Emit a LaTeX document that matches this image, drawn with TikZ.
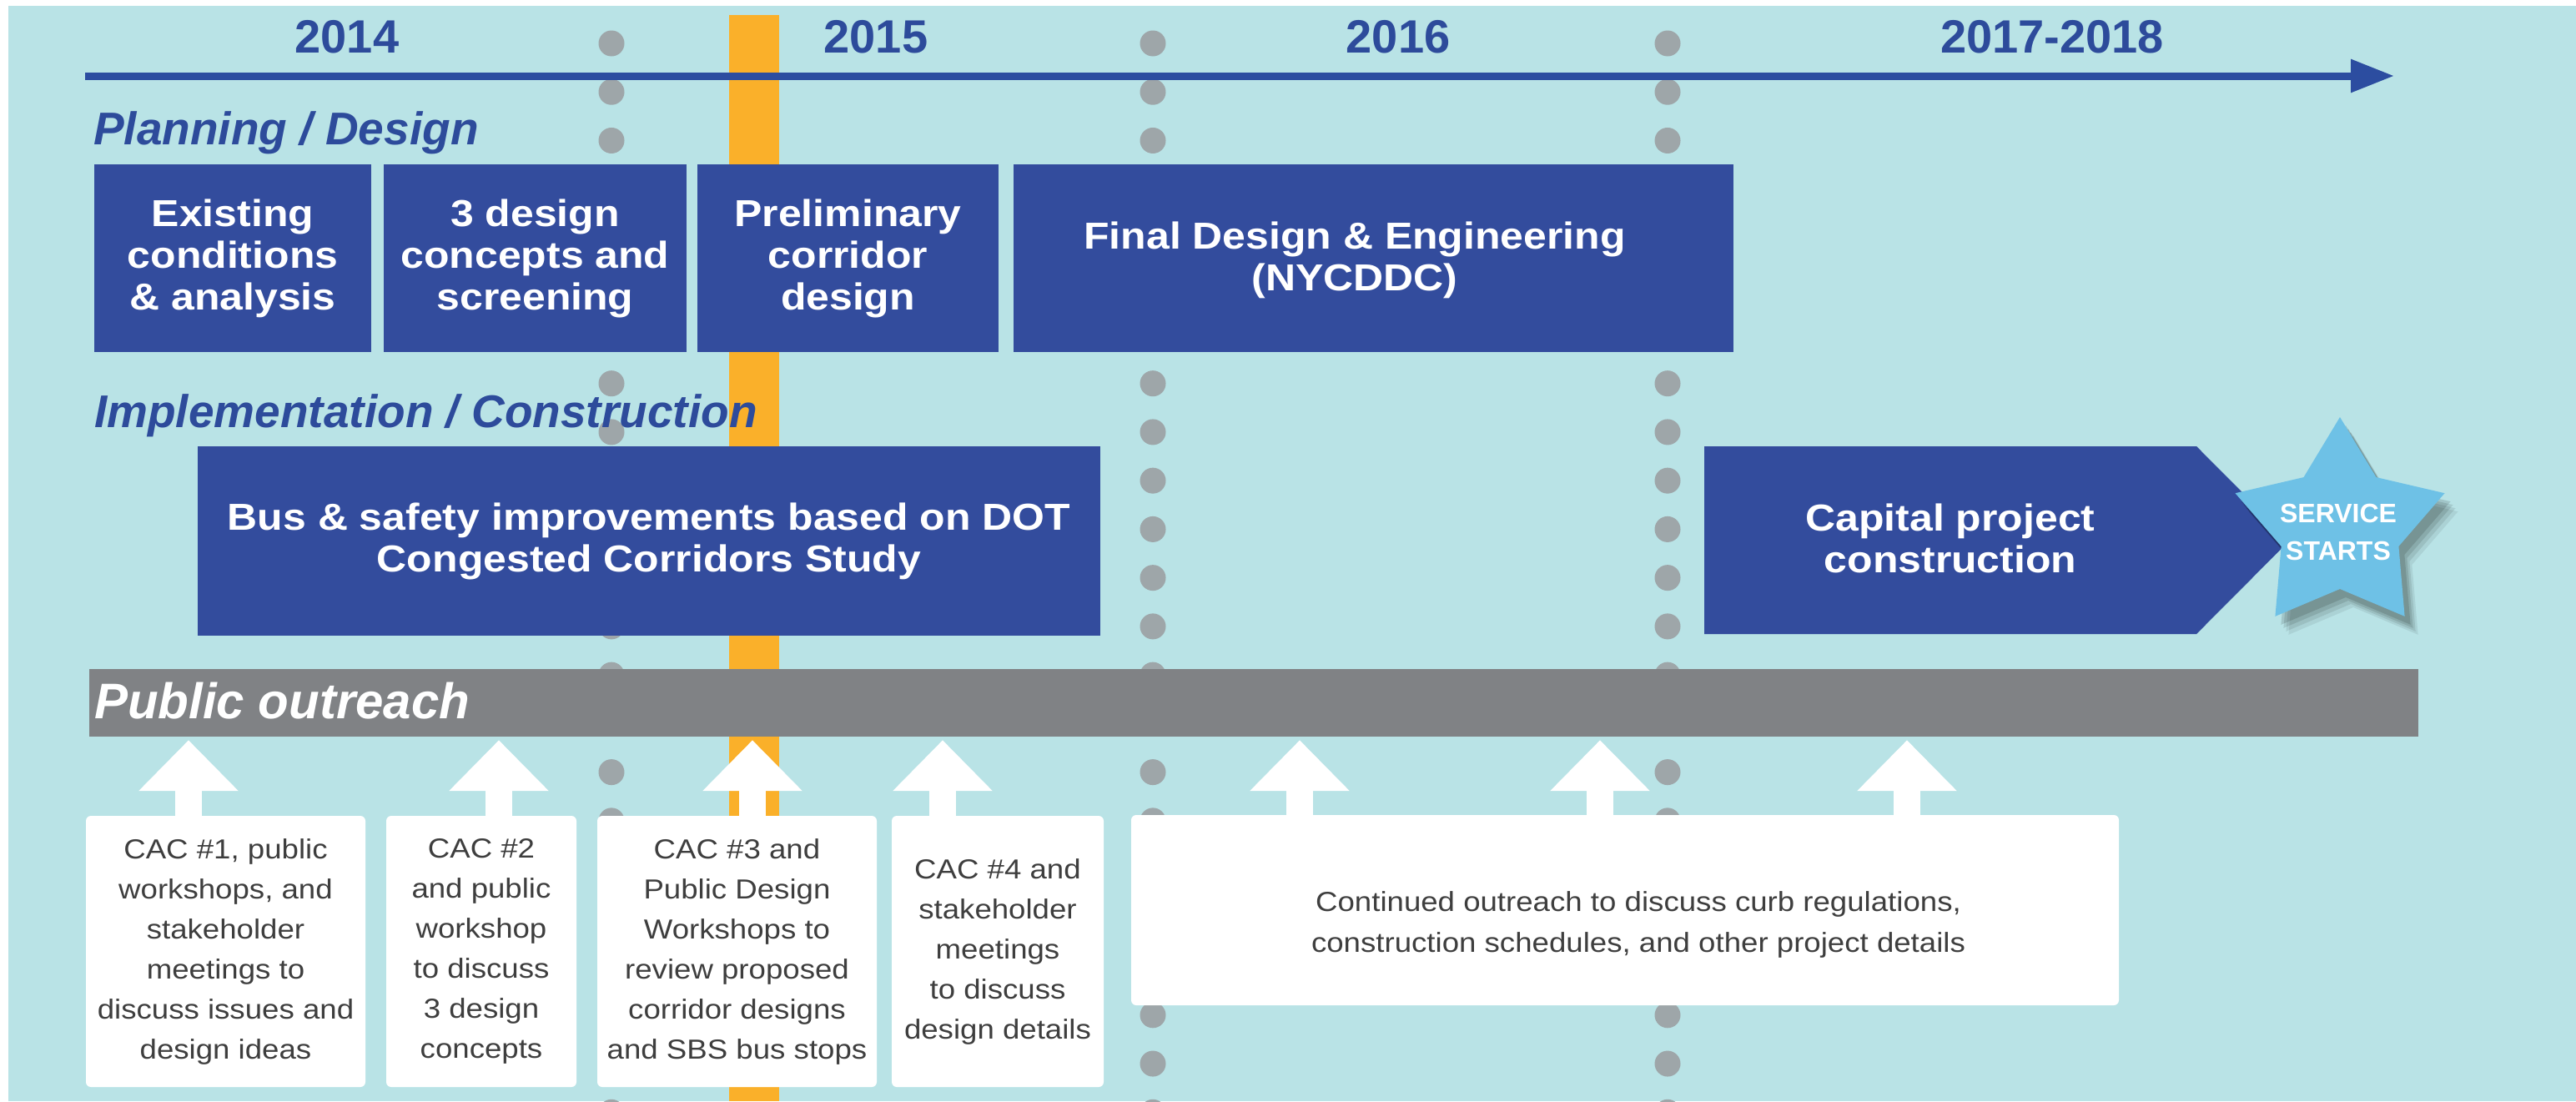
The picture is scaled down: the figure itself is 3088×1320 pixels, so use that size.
\documentclass[tikz,border=0pt]{standalone}
\usepackage{fontspec}
\setmainfont{Liberation Sans}
\newfontfamily\wfont{Liberation Sans}[FakeStretch=1.11]
\usetikzlibrary{arrows.meta,calc}
\definecolor{bgc}{RGB}{185,227,230}
\definecolor{boxblue}{RGB}{51,76,157}
\definecolor{axisblue}{RGB}{44,77,160}
\definecolor{headblue}{RGB}{45,75,155}
\definecolor{orangec}{RGB}{250,176,42}
\definecolor{dotc}{RGB}{158,166,169}
\definecolor{barc}{RGB}{128,130,133}
\definecolor{txtc}{RGB}{62,62,62}
\definecolor{starc}{RGB}{110,193,230}
\begin{document}
\begin{tikzpicture}[x=1pt,y=-1pt,
  yearlbl/.style={text=headblue,font=\fontsize{56}{60}\selectfont\bfseries,inner sep=0,anchor=base},
  heading/.style={text=headblue,font=\fontsize{55}{60}\selectfont\bfseries\itshape,inner sep=0,anchor=base west},
  pbox/.style={fill=boxblue,inner sep=0,minimum height=225pt,text=white,align=center,font=\wfont\fontsize{45}{50}\selectfont\bfseries},
  btext/.style={inner sep=0,text=white,align=center,font=\wfont\fontsize{45}{50}\selectfont\bfseries},
  startext/.style={inner sep=0,text=white,align=center,font=\fontsize{32}{45}\selectfont\bfseries},
  potext/.style={inner sep=0,text=white,anchor=base west,font=\fontsize{60}{62}\selectfont\bfseries\itshape},
  wbox/.style={fill=white,rounded corners=6pt,inner sep=0,minimum height=325pt,align=center,text=txtc,font=\wfont\fontsize{33}{48}\selectfont},
  wtext/.style={inner sep=0,align=center,text=txtc,font=\wfont\fontsize{33}{49}\selectfont},
  uparr/.style={draw=white,line width=32pt,-{Triangle[length=61pt 0 0,width=116pt 0 0]}},
  axisarr/.style={draw=axisblue,line width=9pt,-{Triangle[length=52pt 0 0,width=38pt 0 0]}}
]
\useasboundingbox (0,0) rectangle (3088,1320);
\fill[white] (0,0) rectangle (3088,1320);
\fill[bgc] (10,7) rectangle (3088,1320);

% dotted year separators
\foreach \cx in {733,1382,1999}{
  \foreach \k in {0,...,22}{
    \fill[dotc] ({\cx},{52+58.24*\k}) circle[radius=15.5pt];
  }
}
% orange marker
\fill[orangec] (874,18) rectangle (934,1320);

% time axis
\coordinate (axs) at (102,91);
\coordinate (axe) at (2870,91);
\draw[axisarr] (axs) -- (axe);

% years
\node[yearlbl] (y14) at (416,63) {2014};
\node[yearlbl] (y15) at (1050,63) {2015};
\node[yearlbl] (y16) at (1676,63) {2016};
\node[yearlbl] (y17) at (2460,63) {2017-2018};

% headings
\node[heading] (hplan) at (112,173) {Planning / Design};
\node[heading] (himpl) at (113,512) {Implementation / Construction};

% planning boxes
\node[pbox,minimum width=332pt] (b1) at (279,309.5) {Existing\\conditions\\\& analysis};
\node[pbox,minimum width=363pt] (b2) at (641.5,309.5) {3 design\\concepts and\\screening};
\node[pbox,minimum width=361pt] (b3) at (1016.5,309.5) {Preliminary\\corridor\\design};
\node[pbox,minimum width=863pt] (b4) at (1646.5,309.5) {};
\node[btext] (b4t) at (1624,312) {Final Design \& Engineering\\(NYCDDC)};

% implementation
\node[pbox,minimum width=1082pt,minimum height=227pt] (impl) at (778,648.5) {Bus \& safety improvements based on DOT\\Congested Corridors Study};
\fill[boxblue] (2043,535) -- (2633,535) -- (2745,647.5) -- (2633,760) -- (2043,760) -- cycle;
\node[btext] (cap) at (2338,645) {Capital project\\construction};

% star
\begin{scope}[shift={(2805,632)}]
  \foreach \dx/\dy/\op in {16/22/0.07,13/18/0.09,10/14/0.11,7/10/0.13}{
    \fill[black,opacity=\op,shift={(\dx,\dy)}] (0,-132) -- (-43.5,-59.9) -- (-125.5,-40.8) -- (-70.4,22.9) -- (-77.6,106.8) -- (0,74) -- (77.6,106.8) -- (70.4,22.9) -- (125.5,-40.8) -- (43.5,-59.9) -- cycle;
  }
  \fill[starc] (0,-132) -- (-43.5,-59.9) -- (-125.5,-40.8) -- (-70.4,22.9) -- (-77.6,106.8) -- (0,74) -- (77.6,106.8) -- (70.4,22.9) -- (125.5,-40.8) -- (43.5,-59.9) -- cycle;
\end{scope}
\node[startext] (svc) at (2803,638) {SERVICE\\STARTS};

% public outreach bar
\node[fill=barc,minimum width=2792pt,minimum height=81pt,inner sep=0] (po) at (1503,842.5) {};
\node[potext] (pot) at (113,861) {Public outreach};

% outreach boxes
\node[wbox,minimum width=335pt] (w1) at (270.5,1140.5) {CAC \#1, public\\workshops, and\\stakeholder\\meetings to\\discuss issues and\\design ideas};
\node[wbox,minimum width=228pt] (w2) at (577,1140.5) {CAC \#2\\and public\\workshop\\to discuss\\3 design\\concepts};
\node[wbox,minimum width=335pt] (w3) at (883.5,1140.5) {CAC \#3 and\\Public Design\\Workshops to\\review proposed\\corridor designs\\and SBS bus stops};
\node[wbox,minimum width=254pt] (w4) at (1196,1140.5) {CAC \#4 and\\stakeholder\\meetings\\to discuss\\design details};
\node[wbox,minimum width=1184pt,minimum height=228pt] (w5) at (1948,1091) {};
\node[wtext] (w5t) at (1964,1108) {Continued outreach to discuss curb regulations,\\construction schedules, and other project details};

% arrows up to the outreach bar
\coordinate (a1) at (226,984);
\coordinate (a2) at (598,984);
\coordinate (a3) at (902,984);
\coordinate (a4) at (1130,984);
\coordinate (a5) at (1558,984);
\coordinate (a6) at (1918,984);
\coordinate (a7) at (2286,984);
\foreach \a in {a1,a2,a3,a4,a5,a6,a7}{
  \draw[uparr] (\a) -- ($(\a |- po.south)+(0,4)$);
}
\end{tikzpicture}
\end{document}
